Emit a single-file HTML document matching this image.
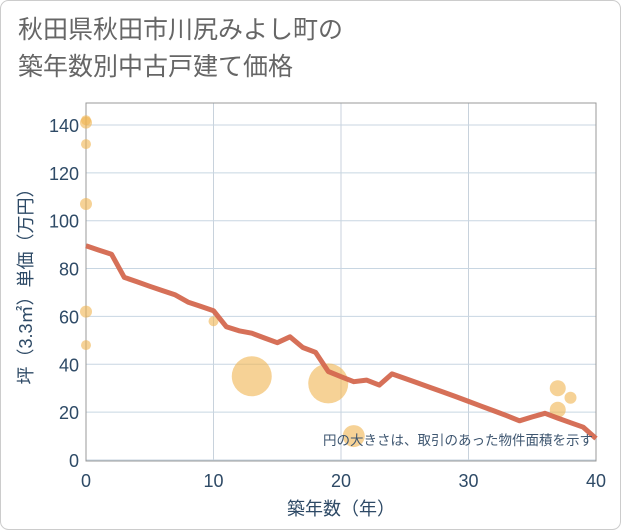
<!DOCTYPE html>
<html><head><meta charset="utf-8"><style>
html,body{margin:0;padding:0;background:#fff;}
#wrap{position:relative;width:621px;height:530px;overflow:hidden;}
.t{position:absolute;left:18px;font-family:"Liberation Sans","Noto Sans CJK JP",sans-serif;font-size:25px;color:#666;letter-spacing:0px;line-height:30px;}
</style></head><body>
<div id="wrap">
<div class="t" style="top:15px">秋田県秋田市川尻みよし町の</div>
<div class="t" style="top:52px">築年数別中古戸建て価格</div>
<svg id="svg" width="621" height="530" style="position:absolute;left:0;top:0"></svg>
</div>
<script>
const years=[0,1,2,3,4,5,6,7,8,9,10,11,12,13,14,15,16,17,18,19,20,21,22,23,24,25,26,27,28,29,30,31,32,33,34,35,36,37,38,39,40];
const avgPrice=[89.5,87.7,86,76.3,74.5,72.6,70.8,69,66,64.2,62.4,55.7,54,53,51,49,51.5,47,45,37,34.8,32.7,33.4,31.3,36,34.1,32.2,30.3,28.4,26.5,24.5,22.5,20.5,18.5,16.4,18,19.5,17.5,15.6,13.7,9];
const bubbleAge=[0,0,0,0,0,0,10,13,19,21,37,37,38];
const bubblePrice=[141,142,132,107,62,48,58,35,32,10,30,21,26];
const bubbleSize=[6,5,5,6,6,5,5,20,20,11,8,8,6];
const xTicks=[0,10,20,30,40];
const yTicks=[0,20,40,60,80,100,120,140];
const NS="http://www.w3.org/2000/svg";
const svg=document.getElementById('svg');
const L=86,R=596,T=103,B=461;
const xs=v=>L+(v/40)*(R-L);
const ys=v=>460-v*2.393;
function mk(tag,attrs){const e=document.createElementNS(NS,tag);for(const k in attrs)e.setAttribute(k,attrs[k]);svg.appendChild(e);return e;}
const card=mk('rect',{x:0.5,y:0.5,width:620,height:529,rx:8,fill:'none',stroke:'#ccc'});


xTicks.forEach(v=>{const g=mk('line',{x1:xs(v),x2:xs(v),y1:T,y2:B,stroke:'#c8d2dc','stroke-width':1});


const t=mk('text',{x:xs(v),y:487,'text-anchor':'middle','font-size':18,fill:'#2e4a66','font-family':'Liberation Sans, sans-serif'});t.textContent=v;

});
yTicks.forEach(v=>{const g=mk('line',{x1:L,x2:R,y1:ys(v),y2:ys(v),stroke:'#c8d6e2','stroke-width':1});


const t=mk('text',{x:79,y:ys(v)+7,'text-anchor':'end','font-size':18,fill:'#2e4a66','font-family':'Liberation Sans, sans-serif'});t.textContent=v;

});
const frame=mk('rect',{x:L,y:T,width:R-L,height:B-T,fill:'none',stroke:'#999','stroke-width':1});


bubbleAge.forEach((a,i)=>{const c=mk('circle',{cx:xs(a),cy:ys(bubblePrice[i]),r:bubbleSize[i],fill:'#f0b450','fill-opacity':0.6});

});
const d=years.map((y,i)=>(i?'L':'M')+xs(y).toFixed(1)+' '+ys(avgPrice[i]).toFixed(1)).join(' ');
const p=mk('path',{d:d,fill:'none',stroke:'#d4684f','stroke-width':5,'stroke-linejoin':'round','stroke-opacity':0.95});


const note=mk('text',{x:593,y:445,'text-anchor':'end','font-size':13.5,fill:'#3e5670','font-family':'Liberation Sans, Noto Sans CJK JP, sans-serif'});note.textContent='円の大きさは、取引のあった物件面積を示す';


const xt=mk('text',{x:341,y:515,'text-anchor':'middle','font-size':18,fill:'#2e4a66','font-family':'Liberation Sans, Noto Sans CJK JP, sans-serif'});xt.textContent='築年数（年）';


const yt=mk('text',{x:0,y:0,'text-anchor':'middle','font-size':18,fill:'#2e4a66','font-family':'Liberation Sans, Noto Sans CJK JP, sans-serif',transform:'translate(32,282) rotate(-90)'});yt.textContent='坪（3.3㎡）単価（万円）';


</script>
</body></html>
